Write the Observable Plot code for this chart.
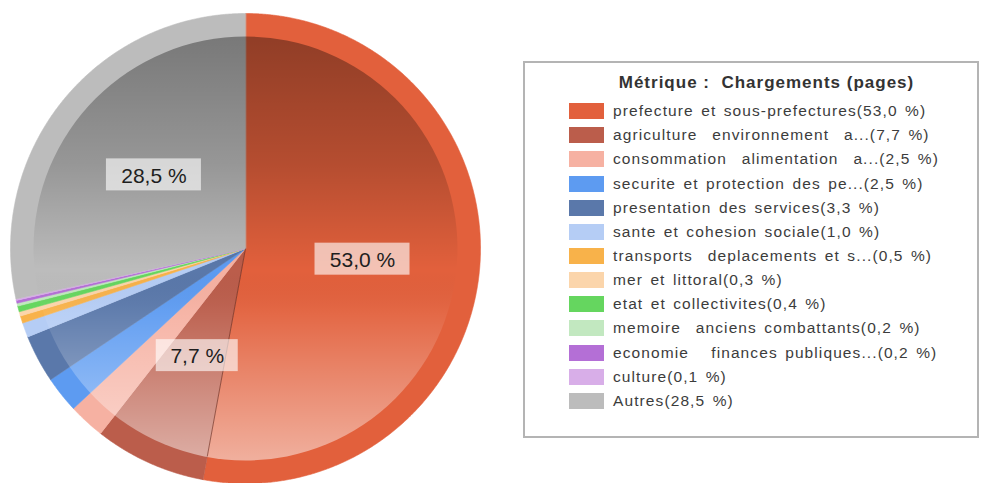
<!DOCTYPE html>
<html>
<head>
<meta charset="utf-8">
<script src="https://cdn.jsdelivr.net/npm/d3@7"></script>
<script src="https://cdn.jsdelivr.net/npm/@observablehq/plot@0.6"></script>
<style>
  html, body { margin: 0; padding: 0; background: #fff; }
  #wrap { position: relative; width: 989px; height: 483px; overflow: hidden; font-family: "Liberation Sans", Arial, sans-serif; }
  #pie { position: absolute; left: 0; top: 0; }
  #legend { position: absolute; left: 523px; top: 61px; width: 452px; height: 373px; border: 2px solid #b4b4b4; background: #fff; box-sizing: content-box; }
  #legend .title { position: absolute; left: 0; top: 10px; width: 100%; text-align: center; padding-left: 31px; box-sizing: border-box; font-weight: bold; font-size: 17px; color: #333; letter-spacing: 1px; white-space: pre; }
  #legend .rows { position: absolute; left: 44px; top: 36px; }
  #legend .row { height: 24.17px; display: flex; align-items: center; }
  #legend .sw { width: 35px; height: 16px; margin-right: 9px; flex: none; }
  #legend .lab { font-size: 15.5px; color: #3c3c3c; white-space: pre; letter-spacing: 1.1px; word-spacing: 2px; }
</style>
</head>
<body>
<div id="wrap">
  <div id="pie"></div>
  <div id="legend"></div>
</div>
<script>
// ---- data ----
const legendTitle = "Métrique :  Chargements (pages)";
const categories = [
  "prefecture et sous-prefectures",
  "agriculture  environnement  a...",
  "consommation  alimentation  a...",
  "securite et protection des pe...",
  "presentation des services",
  "sante et cohesion sociale",
  "transports  deplacements et s...",
  "mer et littoral",
  "etat et collectivites",
  "memoire  anciens combattants",
  "economie   finances publiques...",
  "culture",
  "Autres"
];
const shares = [53.0, 7.7, 2.5, 2.5, 3.3, 1.0, 0.5, 0.3, 0.4, 0.2, 0.2, 0.1, 28.5];
const colors = [
  "#e2603c", "#bb5d4b", "#f6b1a2", "#5d9bf1", "#5a78aa", "#b5cdf5",
  "#f8b24a", "#fbd5ab", "#65d65f", "#c2e8c0", "#b46fd6", "#d8aee8", "#bcbcbc"
];

const fmt = v => d3.format(".1f")(v).replace(".", ",") + " %";
const data = categories.map((name, i) => ({name, value: shares[i], color: colors[i]}));

// ---- pie geometry from data ----
const arcs = d3.pie().sort(null).value(d => d.value)(data);
const poly = arcs.flatMap((a, i) => {
  const pts = [{slice: i, x: 0, y: 0, color: colors[i]}];
  const n = Math.max(2, Math.ceil((a.endAngle - a.startAngle) / 0.005));
  for (let k = 0; k <= n; ++k) {
    const t = a.startAngle + (a.endAngle - a.startAngle) * k / n;
    pts.push({slice: i, x: Math.sin(t), y: Math.cos(t), color: colors[i]});
  }
  return pts;
});
const innerFrac = 0.9;
const separator = [arcs[0]].map(a => ({x1: 0, y1: 0, x2: innerFrac * Math.sin(a.endAngle), y2: innerFrac * Math.cos(a.endAngle)}));

const pxPerUnit = 235;
const labelDist = 0.5;
const labels = arcs.filter(a => a.data.value > 5).map(a => {
  const m = (a.startAngle + a.endAngle) / 2;
  const text = fmt(a.data.value);
  const w = (13 * text.length + 17) / pxPerUnit / 2;
  const h = 16 / pxPerUnit;
  const x = labelDist * Math.sin(m), y = labelDist * Math.cos(m);
  return {x, y, text, x1: x - w, x2: x + w, y1: y - h, y2: y + h};
});

const chart = Plot.plot({
  width: 500,
  height: 483,
  marginLeft: 10,
  marginRight: 20,
  marginTop: 13,
  marginBottom: 0,
  x: {domain: [-1, 1], axis: null},
  y: {domain: [-1, 1], axis: null},
  style: {background: "transparent", overflow: "visible"},
  marks: [
    Plot.line(poly, {x: "x", y: "y", z: "slice", fill: "color", stroke: "color", strokeWidth: 0.6, curve: "linear-closed"}),
    Plot.dot([{x: 0, y: 0}], {x: "x", y: "y", r: 212, fill: "url(#shade)", stroke: "none"}),
    Plot.link(separator, {x1: "x1", y1: "y1", x2: "x2", y2: "y2", stroke: "#6e2c1c", strokeWidth: 0.8, strokeOpacity: 0.8}),
    Plot.rect(labels, {x1: "x1", x2: "x2", y1: "y1", y2: "y2", fill: "#ffffff", fillOpacity: 0.62}),
    Plot.text(labels, {x: "x", y: "y", text: "text", fontSize: 21, fill: "#1e1e1e", fontFamily: "Liberation Sans, Arial, sans-serif", dy: 1})
  ]
});
chart.insertAdjacentHTML("afterbegin", `<defs>
  <linearGradient id="shade" x1="0" y1="0" x2="0" y2="1">
    <stop offset="0" stop-color="#000" stop-opacity="0.36"/>
    <stop offset="0.3" stop-color="#000" stop-opacity="0.2"/>
    <stop offset="0.55" stop-color="#000" stop-opacity="0.0"/>
    <stop offset="0.65" stop-color="#fff" stop-opacity="0.05"/>
    <stop offset="1" stop-color="#fff" stop-opacity="0.5"/>
  </linearGradient></defs>`);
document.getElementById("pie").appendChild(chart);

// ---- legend ----
const legend = document.getElementById("legend");
const title = document.createElement("div");
title.className = "title";
title.textContent = legendTitle;
legend.appendChild(title);
const rows = document.createElement("div");
rows.className = "rows";
data.forEach(d => {
  const row = document.createElement("div");
  row.className = "row";
  const sw = document.createElement("div");
  sw.className = "sw";
  sw.style.background = d.color;
  const lab = document.createElement("span");
  lab.className = "lab";
  lab.textContent = `${d.name}(${fmt(d.value)})`;
  row.appendChild(sw);
  row.appendChild(lab);
  rows.appendChild(row);
});
legend.appendChild(rows);
</script>
</body>
</html>
